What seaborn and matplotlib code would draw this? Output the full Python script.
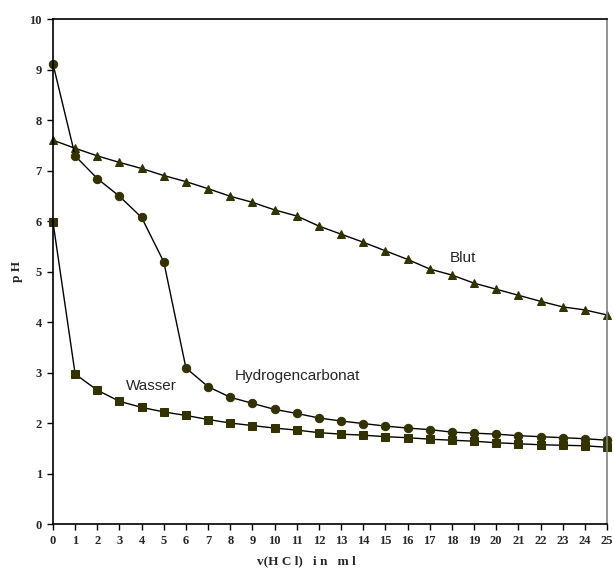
import numpy as np
import pandas as pd
import seaborn as sns
import matplotlib.pyplot as plt

# Titration: pH against added HCl volume
v_hcl = list(range(26))
blut = [7.60, 7.44, 7.29, 7.16, 7.04, 6.90, 6.78, 6.64, 6.49, 6.37, 6.22, 6.10, 5.90,
        5.74, 5.58, 5.41, 5.24, 5.05, 4.93, 4.77, 4.65, 4.53, 4.41, 4.30, 4.24, 4.14]
hydrogencarbonat = [9.11, 7.29, 6.84, 6.49, 6.07, 5.19, 3.09, 2.72, 2.51, 2.39, 2.27, 2.19, 2.10,
                    2.04, 1.99, 1.94, 1.90, 1.87, 1.82, 1.80, 1.78, 1.75, 1.73, 1.71, 1.69, 1.66]
wasser = [5.98, 2.97, 2.65, 2.43, 2.31, 2.22, 2.15, 2.07, 2.00, 1.95, 1.90, 1.86, 1.81,
          1.78, 1.76, 1.73, 1.71, 1.68, 1.66, 1.64, 1.61, 1.59, 1.57, 1.56, 1.55, 1.52]

df = pd.DataFrame({"v": v_hcl * 3,
                   "pH": blut + hydrogencarbonat + wasser,
                   "probe": ["Blut"] * 26 + ["Hydrogencarbonat"] * 26 + ["Wasser"] * 26})

sns.set_style("white")
fig = plt.figure(figsize=(6.14, 5.69), dpi=100)
ax = fig.add_axes([0.0863, 0.079, 0.9023, 0.8876])

farbe = "#333300"
sns.lineplot(data=df, x="v", y="pH", hue="probe", style="probe",
             markers={"Blut": "^", "Hydrogencarbonat": "o", "Wasser": "s"},
             dashes=False, palette={"Blut": "black", "Hydrogencarbonat": "black", "Wasser": "black"},
             markersize=6, markerfacecolor=farbe, markeredgecolor=farbe,
             linewidth=1, legend=False, ax=ax)

ax.set_xlim(0, 25)
ax.set_ylim(0, 10)
ax.set_xticks(range(26))
ax.set_yticks(range(11))

serif = {"family": "Liberation Serif", "weight": "bold", "size": 9.5}
for lab in ax.get_xticklabels() + ax.get_yticklabels():
    lab.set_fontfamily("Liberation Serif")
    lab.set_fontweight("bold")
    lab.set_fontsize(9)

ax.tick_params(axis="both", direction="out", length=4, width=1, color="black",
               bottom=True, left=True, pad=4)
ax.set_xlabel("v(H C l)   i n   m l", fontdict=serif)
ax.xaxis.set_label_coords(0.457, -0.062)
ax.set_ylabel("p H", fontdict=serif)
ax.yaxis.set_label_coords(-0.055, 0.5)

for side in ["left", "bottom", "top"]:
    ax.spines[side].set_color("black")
    ax.spines[side].set_linewidth(1.2)
ax.spines["right"].set_color("#808080")
ax.spines["right"].set_linewidth(1.2)

ax.text(18.5, 5.27, "Blut", family="Liberation Sans", fontsize=11, ha="center", va="center")
ax.text(8.2, 2.93, "Hydrogencarbonat", family="Liberation Sans", fontsize=11, ha="left", va="center")
ax.text(3.3, 2.73, "Wasser", family="Liberation Sans", fontsize=11, ha="left", va="center")

for line in ax.lines:
    line.set_clip_on(False)

fig.savefig("out.png", dpi=100)
